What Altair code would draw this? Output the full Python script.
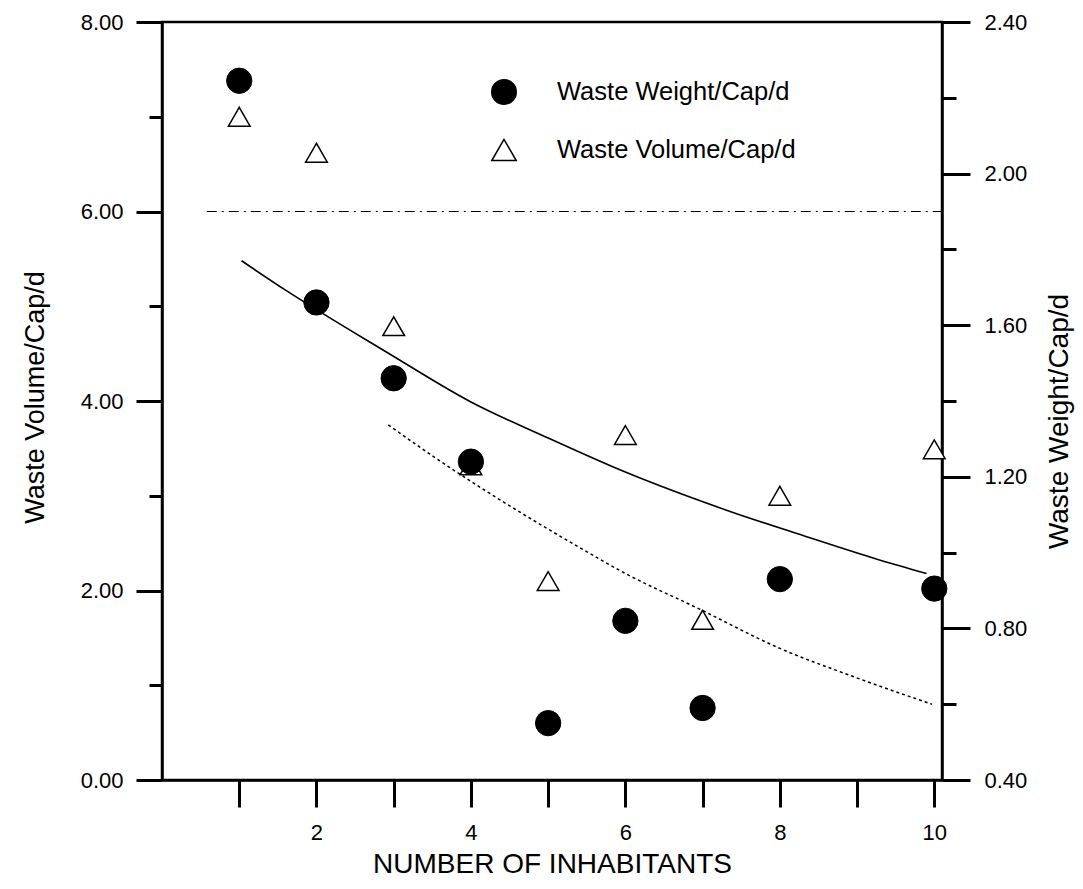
import altair as alt
import pandas as pd

# ---------------- data ----------------
series_names = ["Waste Weight/Cap/d", "Waste Volume/Cap/d"]

inhabitants_weight = [1, 2, 3, 4, 5, 6, 7, 8, 10]
waste_weight = [2.245, 1.66, 1.46, 1.24, 0.55, 0.82, 0.59, 0.93, 0.905]

inhabitants_volume = [1, 2, 3, 4, 5, 6, 7, 8, 10]
waste_volume = [7.0, 6.62, 4.79, 3.32, 2.10, 3.64, 1.69, 3.00, 3.49]

solid_x = [1.03, 1.6, 2.9, 4.0, 5.0, 6.0, 7.3, 8.3, 9.3, 9.9]
solid_volume = [5.48, 5.17, 4.52, 3.99, 3.61, 3.25, 2.85, 2.58, 2.32, 2.18]

dotted_x = [2.93, 3.54, 4.77, 5.31, 6.0, 6.97, 7.97, 8.99, 9.97]
dotted_weight = [1.337, 1.25, 1.09, 1.025, 0.945, 0.85, 0.75, 0.67, 0.60]

ref_line_x = [0.58, 10.1]
ref_line_volume = [6.0]

x_ticks = [1, 2, 3, 4, 5, 6, 7, 8, 9, 10]
left_ticks = [0, 1, 2, 3, 4, 5, 6, 7, 8]
right_ticks = [0.4, 0.6, 0.8, 1.0, 1.2, 1.4, 1.6, 1.8, 2.0, 2.2, 2.4]

# ---------------- tables ----------------
df_w = pd.DataFrame({"n": inhabitants_weight, "val": waste_weight, "series": series_names[0]})
df_v = pd.DataFrame({"n": inhabitants_volume, "val": waste_volume, "series": series_names[1]})
df_solid = pd.DataFrame({"n": solid_x, "val": solid_volume})
df_dot = pd.DataFrame({"n": dotted_x, "val": dotted_weight})
df_ref = pd.DataFrame({"n": [ref_line_x[0]], "n2": [ref_line_x[1]], "val": ref_line_volume})

FONT = "Liberation Sans"

x_axis = alt.Axis(
    values=x_ticks, format="d",
    labelExpr="datum.value % 2 === 0 ? datum.label : ''",
    tickSize=27, tickWidth=3, labelFontSize=22, labelPadding=15,
    domainWidth=2.5, title="NUMBER OF INHABITANTS", titleFontSize=28,
    titleBaseline="alphabetic", titleY=92, titleAlign="center",
)
x_scale = alt.Scale(domain=[0, 10.1], nice=False, zero=False)

left_axis = alt.Axis(
    values=left_ticks, format=".2f", orient="left",
    labelExpr="datum.value % 2 === 0 ? datum.label : ''",
    tickSize={"condition": {"test": "datum.value % 2 === 0", "value": 26}, "value": 13},
    tickWidth=3, labelFontSize=22, labelPadding=13, domainWidth=2.5,
    title="Waste Volume/Cap/d", titleFontSize=27, titleAngle=270,
    titleBaseline="alphabetic", titleAlign="center", titleX=-119, titleY=375,
)
left_scale = alt.Scale(domain=[0, 8], nice=False, zero=False)

right_axis = alt.Axis(
    values=right_ticks, format=".2f", orient="right",
    labelExpr="round(datum.value * 10) % 4 === 0 ? datum.label : ''",
    tickSize={"condition": {"test": "round(datum.value * 10) % 4 === 0", "value": 28}, "value": 14},
    tickWidth=3, labelFontSize=22, labelPadding=14, domainWidth=2.5,
    title="Waste Weight/Cap/d", titleFontSize=28, titleAngle=270,
    titleBaseline="alphabetic", titleAlign="center", titleX=125, titleY=399,
)
right_scale = alt.Scale(domain=[0.4, 2.4], nice=False, zero=False)

legend = alt.Legend(
    title=None, orient="none", legendX=329, legendY=57,
    symbolSize=600, symbolStrokeWidth=1.5, symbolStrokeColor="black",
    labelFontSize=25.5, labelFont=FONT, labelOffset=40, rowPadding=28,
    labelLimit=400, padding=0,
)
shape_enc = alt.Shape("series:N", scale=alt.Scale(domain=series_names, range=["circle", "triangle-up"]), legend=legend)
fill_enc = alt.Fill("series:N", scale=alt.Scale(domain=series_names, range=["black", "white"]), legend=legend)
stroke_enc = alt.Stroke("series:N", scale=alt.Scale(domain=series_names, range=["black", "black"]), legend=legend)

X = alt.X("n:Q", scale=x_scale, axis=x_axis)
YL = alt.Y("val:Q", scale=left_scale, axis=left_axis)
YR = alt.Y("val:Q", scale=right_scale, axis=right_axis)

triangles = alt.Chart(df_v).mark_point(strokeWidth=1.5, opacity=1, size=470).encode(
    x=X, y=YL, shape=shape_enc, fill=fill_enc, stroke=stroke_enc
)
solid = alt.Chart(df_solid).mark_line(color="black", strokeWidth=1.6, interpolate="monotone").encode(x=X, y=YL)
ref_rule = alt.Chart(df_ref).mark_rule(color="black", strokeWidth=1.1, strokeDash=[10, 5, 2, 5]).encode(
    x=X, x2="n2:Q", y=YL
)
vol_layer = alt.layer(ref_rule, solid, triangles)

circles = alt.Chart(df_w).mark_point(strokeWidth=1, opacity=1, size=640).encode(
    x=X, y=YR, shape=shape_enc, fill=fill_enc, stroke=stroke_enc
)
dotted = alt.Chart(df_dot).mark_line(color="black", strokeWidth=1.5, strokeDash=[3, 3], interpolate="monotone").encode(
    x=X, y=YR
)
wt_layer = alt.layer(dotted, circles)

chart = (
    alt.layer(vol_layer, wt_layer)
    .resolve_scale(y="independent")
    .properties(
        width=780, height=758,
        autosize=alt.AutoSizeParams(type="none"),
        padding={"left": 154, "top": 14, "right": 133, "bottom": 100},
        background="white",
    )
    .configure_view(stroke="black", strokeWidth=2.5)
    .configure_axis(
        grid=False, domainColor="black", tickColor="black", labelColor="black",
        titleColor="black", labelFont=FONT, titleFont=FONT, titleFontWeight="normal",
    )
    .configure_legend(labelColor="black")
)

chart.save("out.html", embed_options={"renderer": "svg", "actions": False})
